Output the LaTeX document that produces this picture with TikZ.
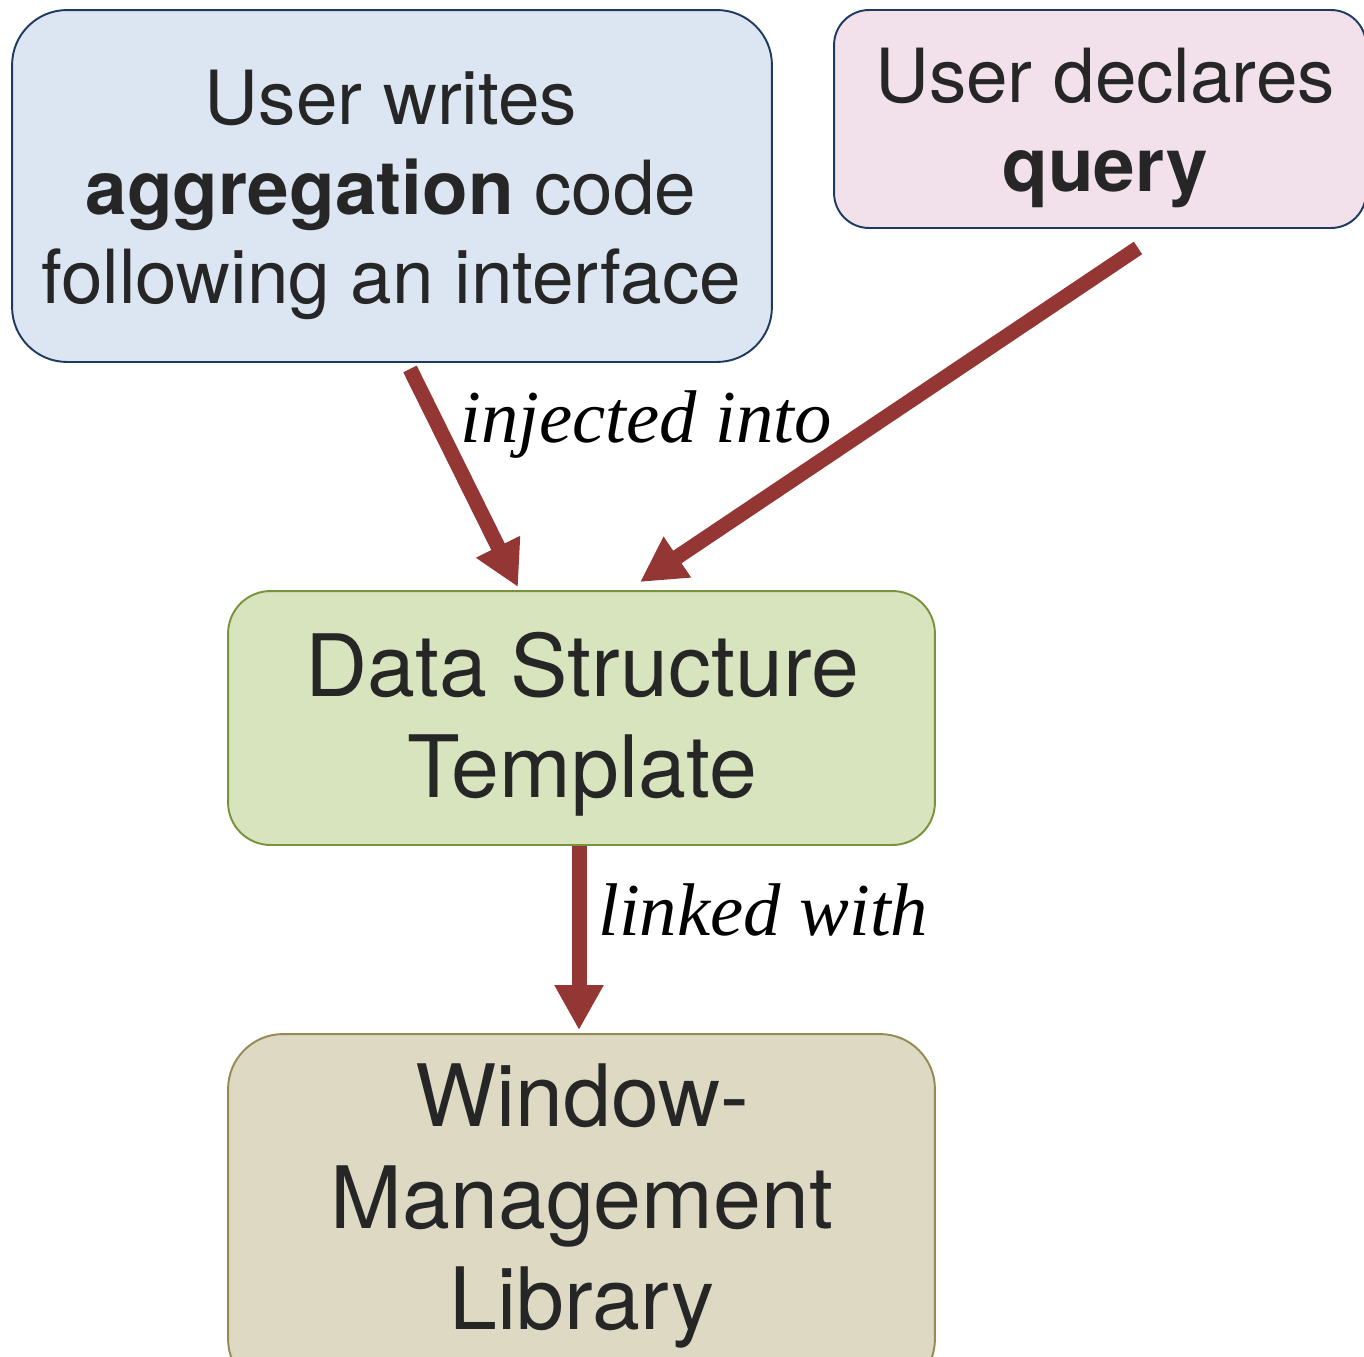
\documentclass[tikz,border=0pt]{standalone}
\usepackage{fontspec}
\setmainfont{TeX Gyre Heros}
\newfontfamily\labelfont{Liberation Serif}
\usetikzlibrary{arrows.meta,calc}

\definecolor{bluefill}{HTML}{DCE6F2}
\definecolor{blueline}{HTML}{1F3A60}
\definecolor{pinkfill}{HTML}{F2E1EA}
\definecolor{greenfill}{HTML}{D7E4BD}
\definecolor{greenline}{HTML}{77933C}
\definecolor{tanfill}{HTML}{DDD9C3}
\definecolor{tanline}{HTML}{948A54}
\definecolor{arrowred}{HTML}{943634}
\definecolor{textgray}{HTML}{262626}

\tikzset{
  box/.style={draw, line width=1.1pt, inner sep=0pt},
  smalltext/.style={text=textgray, align=center,
    font=\fontsize{42.5}{51}\selectfont},
  bigtext/.style={text=textgray, align=center,
    font=\fontsize{49}{57.5}\selectfont},
  lbl/.style={text=black, anchor=base west, inner sep=0pt,
    font=\labelfont\itshape\fontsize{42.5}{50}\selectfont},
  arr/.style={draw=arrowred, line width=0.3cm,
    -{Triangle[length=0.9cm, width=0.92cm]}, arrowred}
}

\begin{document}
\begin{tikzpicture}[x=0.02cm, y=-0.02cm]
  \useasboundingbox (0,0) rectangle (1364,1356);

  % boxes
  \node[box, fill=bluefill, draw=blueline, minimum width=15.2cm,
        minimum height=7.04cm, rounded corners=1.1cm] (blue) at (392,186) {};
  \node[box, fill=pinkfill, draw=blueline, minimum width=10.64cm,
        minimum height=4.36cm, rounded corners=0.7cm] (pink) at (1100,119) {};
  \node[box, fill=greenfill, draw=greenline, minimum width=14.14cm,
        minimum height=5.08cm, rounded corners=0.85cm] (green) at (581.5,718) {};
  \node[box, fill=tanfill, draw=tanline, minimum width=14.14cm,
        minimum height=7.2cm, rounded corners=1.1cm] (tan) at (581.5,1214) {};

  % box texts
  \node[smalltext] (bluetext) at (391,195)
    {User writes\\\textbf{aggregation} code\\following an interface};
  \node[smalltext] (pinktext) at (1105,128)
    {User declares\\\textbf{query}};
  \node[bigtext] (greentext) at (582,724)
    {Data Structure\\Template};
  \node[bigtext] (tantext) at (582,1206)
    {Window-\\Management\\Library};

  % connectors
  \draw[arr] ($(blue.south)+(18,6)$) -- ($(green.north)+(-63.5,-3)$);
  \draw[arr] ($(pink.south)+(38,19)$) -- ($(green.north)+(58.5,-8)$);
  \draw[arr] ($(green.south)+(-2.5,0)$) -- ($(tan.north)+(-2.5,-3)$);

  % connector labels
  \node[lbl] (injected) at (460,442) {injected into};
  \node[lbl] (linked) at (598,935) {linked with};
\end{tikzpicture}
\end{document}
